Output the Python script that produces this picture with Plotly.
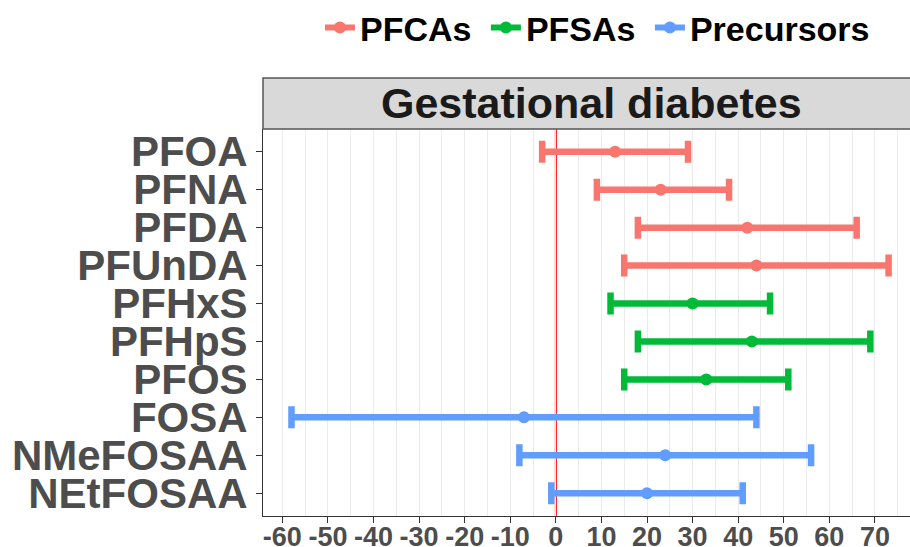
import plotly.graph_objects as go

compounds = ["PFOA", "PFNA", "PFDA", "PFUnDA", "PFHxS", "PFHpS", "PFOS", "FOSA", "NMeFOSAA", "NEtFOSAA"]
groups = ["PFCAs", "PFCAs", "PFCAs", "PFCAs", "PFSAs", "PFSAs", "PFSAs", "Precursors", "Precursors", "Precursors"]
estimate = [13, 23, 42, 44, 30, 43, 33, -7, 24, 20]
lower = [-3, 9, 18, 15, 12, 18, 15, -58, -8, -1]
upper = [29, 38, 66, 73, 47, 69, 51, 44, 56, 41]
group_names = ["PFCAs", "PFSAs", "Precursors"]
group_colors = ["#F8766D", "#00BA38", "#619CFF"]
x_ticks = [-60, -50, -40, -30, -20, -10, 0, 10, 20, 30, 40, 50, 60, 70]
panel_title = "Gestational diabetes"

fig = go.Figure()
for g, c in zip(group_names, group_colors):
    idx = [i for i, gg in enumerate(groups) if gg == g]
    fig.add_trace(go.Scatter(
        x=[estimate[i] for i in idx],
        y=[compounds[i] for i in idx],
        mode="markers",
        name=g,
        showlegend=False,
        marker=dict(color=c, size=12),
        error_x=dict(
            type="data", symmetric=False,
            array=[upper[i] - estimate[i] for i in idx],
            arrayminus=[estimate[i] - lower[i] for i in idx],
            color=c, thickness=6.5, width=11,
        ),
    ))
# legend keys (line + point)
for k, (g, c) in enumerate(zip(group_names, group_colors)):
    label = g + ("\u00a0" if k < len(group_names) - 1 else "")
    fig.add_trace(go.Scatter(
        x=[None], y=[None], mode="lines+markers", name=label,
        line=dict(color=c, width=6), marker=dict(color=c, size=12),
    ))

fig.add_vline(x=0, line=dict(color="red", width=2), layer="below")

# strip
fig.add_shape(type="rect", xref="paper", yref="paper", x0=0, x1=1.01, y0=1.0, y1=1.132,
              fillcolor="#D9D9D9", line=dict(color="#555555", width=1.5))
fig.add_annotation(text=panel_title, xref="paper", yref="paper", x=0.507, y=1.066,
                   xanchor="center", yanchor="middle",
                   showarrow=False, font=dict(size=43, color="#1A1A1A", family="Liberation Sans", weight="bold"))

fig.update_layout(
    width=910, height=547,
    margin=dict(l=263, r=0, t=129, b=31, autoexpand=False),
    plot_bgcolor="white", paper_bgcolor="white",
    font=dict(family="Liberation Sans", weight="bold"),
    showlegend=True,
    legend=dict(orientation="h", xref="container", yref="container", x=0.3516, y=0.949,
                xanchor="left", yanchor="middle",
                font=dict(size=34, color="#000000", family="Liberation Sans", weight="bold"),
                tracegroupgap=0, bgcolor="rgba(0,0,0,0)"),
    xaxis=dict(range=[-64.25, 77.7], tickvals=x_ticks, ticktext=[str(v) for v in x_ticks],
               showgrid=True, gridcolor="#EBEBEB", gridwidth=1,
               minor=dict(dtick=5, tick0=0, showgrid=True, gridcolor="#EBEBEB", gridwidth=1),
               zeroline=False, showline=True, linecolor="#333333", linewidth=1,
               ticks="outside", ticklen=6, tickcolor="#333333", ticklabelstandoff=-9,
               tickfont=dict(size=27, color="#4D4D4D", family="Liberation Sans", weight="bold"),
               automargin=False),
    yaxis=dict(type="category", categoryorder="array", categoryarray=compounds,
               tickmode="array", tickvals=compounds, ticktext=compounds,
               range=[9.6, -0.6], showgrid=False, zeroline=False,
               showline=True, linecolor="#333333", linewidth=1,
               ticks="outside", ticklen=6, tickcolor="#333333",
               tickfont=dict(size=42, color="#4D4D4D", family="Liberation Sans", weight="bold"),
               automargin=False),
)

fig.write_html("out.html", config={"displayModeBar": False},
               post_script="document.body.style.margin='0';")
